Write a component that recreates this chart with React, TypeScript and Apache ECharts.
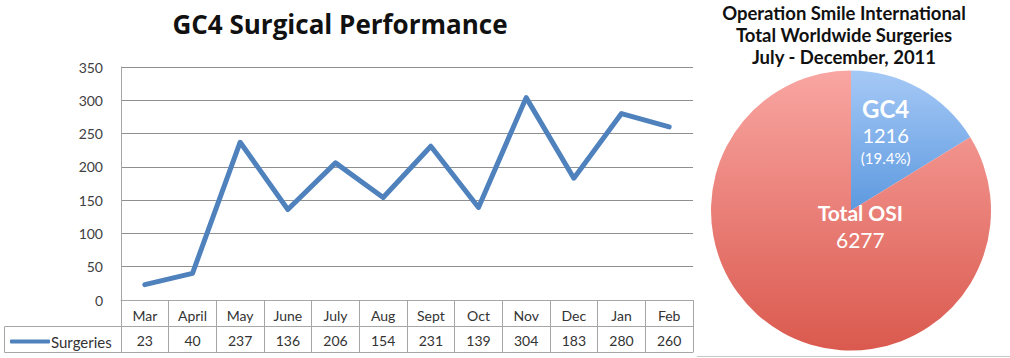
import React, { useEffect, useRef } from "react";
import * as echarts from "echarts";

const months = ["Mar", "April", "May", "June", "July", "Aug", "Sept", "Oct", "Nov", "Dec", "Jan", "Feb"];
const surgeries = [23, 40, 237, 136, 206, 154, 231, 139, 304, 183, 280, 260];
const seriesName = "Surgeries";
const yMin = 0;
const yMax = 350;
const yInterval = 50;

const pieNames = ["GC4", "Total OSI"];
const pieValues = [1216, 6277];

const leftTitle = "GC4 Surgical Performance";
const rightTitle = "Operation Smile International\nTotal Worldwide Surgeries\nJuly - December, 2011";

const FONT = "Lato, 'Open Sans', sans-serif";
const GRID_L = 121;
const GRID_R = 693;
const GRID_T = 67;
const GRID_B = 300;
const BORDER = "#a6a6a6";

export default function App() {
  const ref = useRef<HTMLDivElement>(null);
  useEffect(() => {
    if (!ref.current) return;
    const chart = echarts.init(ref.current, null, { renderer: "svg" });
    const pct = ((pieValues[0] / pieValues[1]) * 100).toFixed(1);
    chart.setOption({
      animation: false,
      textStyle: { fontFamily: FONT },
      title: [
        {
          text: leftTitle,
          left: 340,
          top: 9,
          padding: 0,
          textAlign: "center",
          textStyle: { fontFamily: "'Open Sans', sans-serif", fontSize: 26, fontWeight: "bold", color: "#111", lineHeight: 30 },
        },
        {
          text: rightTitle,
          left: 844,
          top: 2,
          padding: 0,
          textAlign: "center",
          textStyle: { fontFamily: FONT, fontSize: 18.5, fontWeight: "bold", color: "#111", lineHeight: 22 },
        },
      ],
      legend: {
        data: [{ name: seriesName, icon: "roundRect" }],
        left: 5,
        top: 329,
        itemWidth: 40,
        itemHeight: 4,
        itemGap: 4,
        textStyle: { fontFamily: FONT, fontSize: 15, color: "#333", padding: [0, 0, 0, -4] },
        selectedMode: false,
      },
      grid: {
        left: GRID_L,
        right: 1010 - GRID_R,
        top: GRID_T,
        bottom: 358 - GRID_B,
        containLabel: false,
      },
      xAxis: [
        {
          type: "category",
          data: months,
          position: "bottom",
          boundaryGap: true,
          axisLine: { show: true, lineStyle: { color: BORDER, width: 1 } },
          axisTick: { show: true, length: 52, interval: 0, lineStyle: { color: BORDER } },
          axisLabel: { interval: 0, margin: 8, fontSize: 14, color: "#333", fontFamily: FONT },
        },
        {
          type: "category",
          data: surgeries.map((v) => String(v)),
          position: "bottom",
          offset: 26,
          boundaryGap: true,
          axisLine: { show: true, lineStyle: { color: BORDER, width: 1 } },
          axisTick: { show: false },
          axisLabel: { interval: 0, margin: 7, fontSize: 14, color: "#333", fontFamily: FONT },
        },
        {
          type: "category",
          data: months,
          position: "bottom",
          offset: 52,
          boundaryGap: true,
          axisLine: { show: true, lineStyle: { color: BORDER, width: 1 } },
          axisTick: { show: false },
          axisLabel: { show: false },
        },
      ],
      yAxis: {
        type: "value",
        min: yMin,
        max: yMax,
        interval: yInterval,
        axisLine: { show: true, lineStyle: { color: BORDER } },
        axisTick: { show: false },
        axisLabel: { margin: 18, fontSize: 14, color: "#404040", fontFamily: FONT },
        splitLine: { show: true, lineStyle: { color: "#8f8f8f", width: 1 } },
      },
      series: [
        {
          type: "line",
          name: seriesName,
          data: surgeries,
          xAxisIndex: 0,
          symbol: "none",
          lineStyle: { color: "#4f81bd", width: 5, cap: "round", join: "round" },
          itemStyle: { color: "#4f81bd" },
          emphasis: { disabled: true },
        },
        {
          type: "pie",
          center: [851, 210.5],
          radius: 140,
          startAngle: 90,
          clockwise: true,
          emphasis: { disabled: true },
          labelLine: { show: false },
          data: [
            {
              name: pieNames[0],
              value: pieValues[0],
              itemStyle: {
                color: new echarts.graphic.LinearGradient(0, 70, 0, 212, [
                  { offset: 0, color: "#a6c9f6" },
                  { offset: 1, color: "#5c99df" },
                ], true),
              },
              label: {
                show: true,
                position: "inside",
                formatter: () => `{n|${pieNames[0]}}\n{v|${pieValues[0]}}\n{p|(${pct}%)}`,
                rich: {
                  n: { fontFamily: FONT, fontSize: 24, fontWeight: "bold", color: "#fff", lineHeight: 28 },
                  v: { fontFamily: FONT, fontSize: 20, color: "#fff", lineHeight: 25 },
                  p: { fontFamily: FONT, fontSize: 15, color: "#fff", lineHeight: 21 },
                },
              },
            },
            {
              name: pieNames[1],
              value: pieValues[1],
              itemStyle: {
                color: new echarts.graphic.LinearGradient(0, 70, 0, 351, [
                  { offset: 0, color: "#f9a6a2" },
                  { offset: 1, color: "#da594e" },
                ], true),
              },
              label: {
                show: true,
                position: "inside",
                formatter: () => `{n|${pieNames[1]}}\n{v|${pieValues[1]}}`,
                rich: {
                  n: { fontFamily: FONT, fontSize: 21, fontWeight: "bold", color: "#fff", lineHeight: 27 },
                  v: { fontFamily: FONT, fontSize: 21, color: "#fff", lineHeight: 27 },
                },
              },
            },
          ],
          labelLayout: (p: any) =>
            p.dataIndex === 0 ? { dx: -1, dy: -15 } : { dx: 45, dy: -48 },
        },
      ],
      graphic: [
        { type: "line", shape: { x1: 4.5, y1: 326.5, x2: GRID_L, y2: 326.5 }, style: { stroke: BORDER, lineWidth: 1 } },
        { type: "line", shape: { x1: 4.5, y1: 352.5, x2: GRID_L, y2: 352.5 }, style: { stroke: BORDER, lineWidth: 1 } },
        { type: "line", shape: { x1: 4.5, y1: 326.5, x2: 4.5, y2: 352.5 }, style: { stroke: BORDER, lineWidth: 1 } },
        { type: "line", shape: { x1: 697, y1: 356.5, x2: 1010, y2: 356.5 }, style: { stroke: "#c8c8c8", lineWidth: 1 } },
      ],
    });
    return () => chart.dispose();
  }, []);
  return (
    <div
      ref={ref}
      style={{ position: "absolute", left: 0, top: 0, width: 1010, height: 358, background: "#fff" }}
    />
  );
}
